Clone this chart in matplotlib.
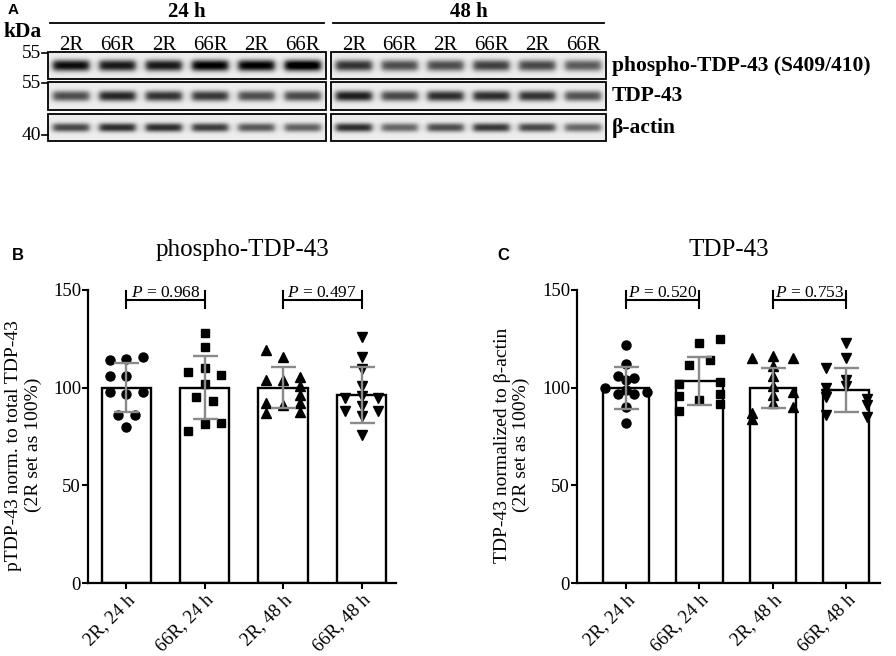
import numpy as np
import matplotlib
matplotlib.use('Agg')
import matplotlib.pyplot as plt
from matplotlib.patches import Rectangle

plt.rcParams['font.family'] = ['Liberation Serif', 'DejaVu Serif']
plt.rcParams['mathtext.fontset'] = 'custom'
plt.rcParams['mathtext.it'] = 'Liberation Serif:italic'
plt.rcParams['mathtext.rm'] = 'Liberation Serif'

# ---------------- data ----------------
groups = ['2R, 24 h', '66R, 24 h', '2R, 48 h', '66R, 48 h']
markers = ['o', 's', '^', 'v']

# panel A (western blot)
timepoints = ['24 h', '48 h']
lanes = ['2R', '66R', '2R', '66R', '2R', '66R']
blot_rows = ['phospho-TDP-43 (S409/410)', 'TDP-43', 'β-actin']
kda_marks = ['55', '55', '40']
# band darkness per lane: six 24 h lanes then six 48 h lanes
band_ptdp = [0.85, 0.80, 0.80, 0.90, 0.90, 0.95, 0.70, 0.60, 0.60, 0.65, 0.62, 0.55]
band_tdp = [0.60, 0.75, 0.70, 0.68, 0.60, 0.62, 0.78, 0.62, 0.72, 0.72, 0.70, 0.58]
band_actin = [0.62, 0.72, 0.72, 0.66, 0.56, 0.52, 0.72, 0.50, 0.60, 0.68, 0.62, 0.50]

# panel B: phospho-TDP-43
ptdp_mean = [100, 100, 100, 96.2]
ptdp_sd = [12.5, 16.1, 10.5, 14.2]
ptdp_pts = [
    [114, 114.5, 115.5, 106, 106, 98, 97, 98, 86, 86, 80],
    [128, 120.6, 108, 110, 106.5, 102, 95, 93, 81.5, 81.7, 78],
    [119.4, 115.5, 104, 104, 105.7, 100.9, 96.5, 92.3, 92.3, 91, 86.8, 87.6],
    [126, 115.8, 109.5, 100.9, 94.5, 95.7, 94.5, 90.5, 88, 88, 85.4, 75.6],
]
ptdp_cols = [
    [-1, 0, 1, -1, 0, -1, 0, 1, -0.5, 0.5, 0],
    [0, 0, -1, 0, 1, 0, -0.5, 0.5, 0, 1, -1],
    [-1, 0, -1, 0, 1, 1, 1, -1, 1, 0, -1, 1],
    [0, 0, 0, 0, -1, 0, 1, 0, -1, 1, 0, 0],
]
ptdp_p = ['0.968', '0.497']

# panel C: TDP-43
tdp_mean = [100, 103.4, 100, 98.8]
tdp_sd = [10.7, 12.3, 10.3, 11.2]
tdp_pts = [
    [122, 112, 106, 105, 104, 100, 97, 97, 98, 99, 90, 82],
    [122.7, 124.9, 111.7, 114.1, 101.7, 103.1, 95.7, 96.9, 93.7, 88.3, 91.8],
    [115, 116, 115, 111, 106, 101, 98, 96, 92, 90, 87, 84],
    [123, 115, 110, 104, 100, 101, 97, 95, 94, 91, 86, 85],
]
tdp_cols = [
    [0, 0, -0.4, 0.4, 0, -1, -0.4, 0.4, 1, 0, 0, 0],
    [0, 1, -0.5, 0.5, -1, 1, -1, 1, 0, -1, 1],
    [-1, 0, 1, 0, 0, 0, 1, 0, 0, 1, -1, -1],
    [0, 0, -1, 0, -1, 0, -1, -1, 1, 1, -1, 1],
]
tdp_p = ['0.520', '0.753']

# ---------------- figure ----------------
W, H = 896, 656
fig = plt.figure(figsize=(W / 100, H / 100), dpi=100)

# ----- panel A -----
axA = fig.add_axes([0, 1 - 160 / H, 1, 160 / H])
box_x = [(48, 326), (331, 606)]
row_y = [(52, 79), (82, 110), (114, 141)]
band_sets = [band_ptdp, band_tdp, band_actin]
band_sigma = [5.6, 5.2, 4.4]

for r, (y0, y1) in enumerate(row_y):
    for g, (x0, x1) in enumerate(box_x):
        nx, ny = int(x1 - x0), int(y1 - y0)
        xx = np.arange(nx) + 0.5
        yy = np.arange(ny)[:, None] + 0.5
        lane_w = nx / 6
        img = np.full((ny, nx), 0.93)
        for k in range(6):
            c = (k + 0.5) * lane_w
            horiz = 0.5 * (np.tanh((xx - c + 18) / 3.5) - np.tanh((xx - c - 18) / 3.5))
            vert = np.exp(-(np.abs(yy - ny / 2) / band_sigma[r]) ** 2.4)
            img = img - 1.05 * band_sets[r][g * 6 + k] * horiz * vert
        axA.imshow(np.clip(img, 0, 1), cmap='gray', vmin=0, vmax=1,
                   extent=(x0, x1, y1, y0), interpolation='bilinear', aspect='auto')
        axA.add_patch(Rectangle((x0, y0), x1 - x0, y1 - y0, fill=False, lw=1.3, ec='black'))
        if r == 0:
            for k in range(6):
                axA.text(x0 + (k + 0.5) * lane_w, 50, lanes[k], ha='center', va='baseline',
                         fontsize=15)
    axA.text(41, row_y[r][0] + (1 if r < 2 else 21), kda_marks[r], ha='right', va='center',
             fontsize=14)
    axA.plot([42, 48], [row_y[r][0] + (1 if r < 2 else 21)] * 2, color='black', lw=1.2)
    axA.text(612, (row_y[r][0] + row_y[r][1]) / 2, blot_rows[r], ha='left', va='center',
             fontsize=15.5, fontweight='bold')

for g, (x0, x1) in enumerate(box_x):
    axA.plot([x0 + 2, x1 - 2], [22.5, 22.5], color='black', lw=1.3)
    axA.text((x0 + x1) / 2, 12, timepoints[g], ha='center', va='center',
             fontsize=15, fontweight='bold')
axA.text(3, 32, 'kDa', ha='left', va='center', fontsize=15.5, fontweight='bold')
axA.set_xlim(0, W)
axA.set_ylim(160, 0)
axA.axis('off')


# ----- bar panels -----
def bar_panel(left_px, width_px, xlim, col_step, means, sds, pts, cols, pvals, title, ylabel,
              ylabel_x):
    ax = fig.add_axes([left_px / W, (H - 583) / H, width_px / W, 293 / H])
    x = np.arange(len(groups))
    ax.bar(x, means, width=0.63, color='white', edgecolor='black', linewidth=1.7, zorder=2)
    for i in range(len(groups)):
        ax.plot(x[i] + np.array(cols[i]) * col_step, pts[i], linestyle='none',
                marker=markers[i], color='black', markersize=6.5 if i != 1 else 6,
                zorder=3)
    ax.errorbar(x, means, yerr=sds, fmt='none', ecolor='#8a8a8a', elinewidth=1.7,
                capsize=9, capthick=1.7, zorder=4)
    for k, (i, j) in enumerate([(0, 1), (2, 3)]):
        ax.plot([i, j], [145, 145], color='black', lw=1.5, clip_on=False)
        ax.plot([i, i], [141, 149.5], color='black', lw=1.5, clip_on=False)
        ax.plot([j, j], [141, 149.5], color='black', lw=1.5, clip_on=False)
        ax.text((i + j) / 2, 144.3, '$P$ = ' + pvals[k], ha='center', va='bottom',
                fontsize=12.5)
    ax.set_xlim(*xlim)
    ax.set_ylim(0, 150)
    ax.set_yticks([0, 50, 100, 150])
    ax.set_xticks(x)
    ax.set_xticklabels(groups, rotation=45, ha='right', rotation_mode='anchor')
    ax.tick_params(axis='both', length=4, width=1.5, labelsize=13.5, pad=2)
    ax.tick_params(axis='y', pad=1)
    for s in ['top', 'right']:
        ax.spines[s].set_visible(False)
    for s in ['left', 'bottom']:
        ax.spines[s].set_linewidth(1.6)
    ax.set_ylabel(ylabel, fontsize=14, linespacing=1.15)
    ax.yaxis.set_label_coords(ylabel_x, 0.47)
    ax.text(0.5, 1 + 40 / 293, title, transform=ax.transAxes, ha='center', va='center',
            fontsize=18)
    return ax


bar_panel(88, 308, (-0.49, 3.44), 0.213, ptdp_mean, ptdp_sd, ptdp_pts, ptdp_cols, ptdp_p,
          'phospho-TDP-43', 'pTDP-43 norm. to total TDP-43\n(2R set as 100%)', -0.15)
bar_panel(577, 303, (-0.667, 3.46), 0.28, tdp_mean, tdp_sd, tdp_pts, tdp_cols, tdp_p,
          'TDP-43', 'TDP-43 normalized to β-actin\n(2R set as 100%)', -0.155)

fig.text(12 / W, 1 - 256 / H, 'B', fontsize=12, fontweight='bold', family='Liberation Sans',
         ha='left', va='center')
fig.text(497 / W, 1 - 256 / H, 'C', fontsize=12, fontweight='bold', family='Liberation Sans',
         ha='left', va='center')
fig.text(8 / W, 1 - 10 / H, 'A', fontsize=11, fontweight='bold', family='Liberation Sans',
         ha='left', va='center')

fig.savefig('out.png', dpi=100)
